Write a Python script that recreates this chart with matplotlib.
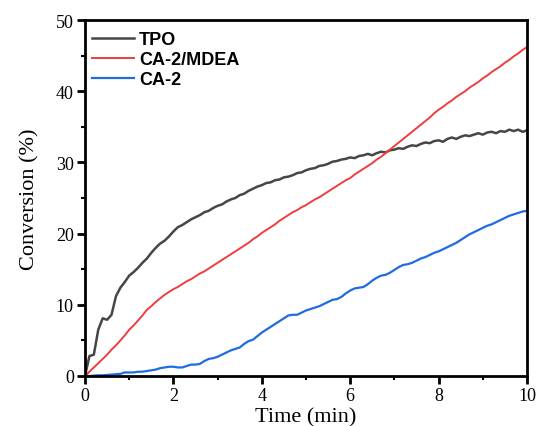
import numpy as np
import matplotlib
matplotlib.use("Agg")
import matplotlib.pyplot as plt
from matplotlib.ticker import MultipleLocator

time_min = [round(0.1 * i, 1) for i in range(101)]

tpo = [0.0, 2.8, 3.0, 6.5, 8.1, 7.9, 8.6, 11.2, 12.4, 13.2,
       14.1, 14.6, 15.2, 15.9, 16.5, 17.3, 18.0, 18.6, 19.0, 19.6,
       20.3, 20.9, 21.2, 21.6, 22.0, 22.3, 22.6, 23.0, 23.2, 23.6,
       23.9, 24.1, 24.5, 24.8, 25.0, 25.4, 25.6, 26.0, 26.3, 26.6,
       26.8, 27.1, 27.2, 27.5, 27.6, 27.9, 28.0, 28.2, 28.5, 28.6,
       28.9, 29.1, 29.2, 29.5, 29.6, 29.8, 30.1, 30.2, 30.4, 30.5,
       30.7, 30.6, 30.9, 31.0, 31.2, 31.0, 31.3, 31.5, 31.4, 31.7,
       31.8, 32.0, 31.9, 32.2, 32.4, 32.3, 32.6, 32.8, 32.7, 33.0,
       33.1, 32.9, 33.3, 33.5, 33.3, 33.6, 33.8, 33.7, 33.9, 34.1,
       33.9, 34.2, 34.3, 34.1, 34.4, 34.3, 34.6, 34.4, 34.6, 34.3,
       34.5]

ca2_mdea = [0.0, 0.6, 1.2, 1.8, 2.4, 3.0, 3.7, 4.3, 5.0, 5.7,
            6.5, 7.1, 7.8, 8.5, 9.3, 9.8, 10.4, 10.9, 11.4, 11.8,
            12.2, 12.5, 12.9, 13.3, 13.6, 14.0, 14.4, 14.7, 15.1, 15.5,
            15.9, 16.3, 16.7, 17.1, 17.5, 17.9, 18.3, 18.7, 19.2, 19.6,
            20.1, 20.5, 20.9, 21.3, 21.8, 22.2, 22.6, 23.0, 23.3, 23.7,
            24.0, 24.4, 24.8, 25.1, 25.5, 25.9, 26.3, 26.7, 27.1, 27.5,
            27.8, 28.3, 28.7, 29.1, 29.5, 29.9, 30.4, 30.8, 31.3, 31.8,
            32.3, 32.8, 33.3, 33.8, 34.3, 34.8, 35.3, 35.8, 36.3, 36.9,
            37.4, 37.8, 38.3, 38.7, 39.2, 39.6, 40.0, 40.5, 40.9, 41.3,
            41.8, 42.2, 42.7, 43.1, 43.5, 44.0, 44.4, 44.9, 45.3, 45.8,
            46.2]

ca2 = [0.0, 0.0, 0.05, 0.1, 0.1, 0.15, 0.2, 0.25, 0.3, 0.5,
       0.5, 0.5, 0.6, 0.6, 0.7, 0.8, 0.9, 1.1, 1.2, 1.3,
       1.3, 1.2, 1.2, 1.4, 1.6, 1.6, 1.7, 2.1, 2.4, 2.5,
       2.7, 3.0, 3.3, 3.6, 3.8, 4.0, 4.5, 4.9, 5.1, 5.6,
       6.1, 6.5, 6.9, 7.3, 7.7, 8.1, 8.5, 8.6, 8.6, 8.9,
       9.2, 9.4, 9.6, 9.8, 10.1, 10.4, 10.7, 10.8, 11.1, 11.6,
       12.0, 12.3, 12.4, 12.5, 12.9, 13.4, 13.8, 14.1, 14.2, 14.5,
       14.9, 15.3, 15.6, 15.7, 15.9, 16.2, 16.5, 16.7, 17.0, 17.3,
       17.5, 17.8, 18.1, 18.4, 18.7, 19.1, 19.5, 19.9, 20.2, 20.5,
       20.8, 21.1, 21.3, 21.6, 21.9, 22.2, 22.5, 22.7, 22.9, 23.1,
       23.2]

series_labels = ["TPO", "CA-2/MDEA", "CA-2"]
colors = ["#464646", "#f03c3c", "#1f6be0"]

fig = plt.figure(figsize=(5.39, 4.27), dpi=100)
ax = fig.add_axes([0.1577, 0.1171, 0.82, 0.8337])

for y, lab, c, lw in zip([tpo, ca2_mdea, ca2], series_labels, colors, [1.8, 1.4, 1.6]):
    ax.plot(time_min, y, color=c, lw=lw, label=lab)

ax.set_xlim(0, 10)
ax.set_ylim(0, 50)
ax.xaxis.set_major_locator(MultipleLocator(2))
ax.xaxis.set_minor_locator(MultipleLocator(1))
ax.yaxis.set_major_locator(MultipleLocator(10))
ax.yaxis.set_minor_locator(MultipleLocator(5))

for s in ax.spines.values():
    s.set_linewidth(2.0)
ax.tick_params(which='major', direction='out', length=6, width=2.0, labelsize=13, pad=2)
ax.tick_params(which='minor', direction='out', length=3, width=1.5)
for t in ax.get_xticklabels() + ax.get_yticklabels():
    t.set_fontfamily('Liberation Serif')

ax.set_xlabel("Time (min)", fontfamily='Liberation Serif', fontsize=16, labelpad=2)
ax.set_ylabel("Conversion (%)", fontfamily='Liberation Serif', fontsize=16, labelpad=12)

leg = ax.legend(loc='upper left', frameon=False, prop={'family': 'Liberation Sans', 'weight': 'bold', 'size': 13},
                handlelength=2.3, handletextpad=0.28, labelspacing=0.18, borderaxespad=0.2,
                bbox_to_anchor=(-0.008, 1.0))

fig.savefig("out.png", dpi=100)
